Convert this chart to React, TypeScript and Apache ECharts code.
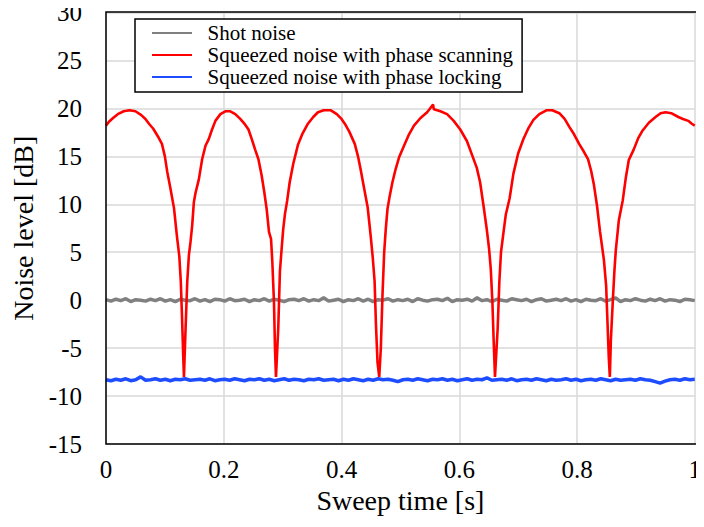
import React, { useEffect, useRef } from "react";
import * as echarts from "echarts";

const seriesNames = [
  "Shot noise",
  "Squeezed noise with phase scanning",
  "Squeezed noise with phase locking",
];

// Squeezed noise with phase scanning: [sweep time s, noise level dB]
const scanTrace: number[][] = [
  [0.0, 18.2], [0.005, 18.6], [0.012, 19.0], [0.02, 19.4], [0.03, 19.7], [0.04, 19.8], [0.05, 19.7],
  [0.06, 19.3], [0.067, 18.9], [0.073, 18.4], [0.08, 17.9], [0.088, 17.1], [0.095, 16.3], [0.1, 15.0],
  [0.104, 13.4], [0.109, 11.8], [0.1155, 9.6], [0.1206, 6.6], [0.1245, 4.6], [0.127, 2.0], [0.129, -1.5],
  [0.131, -5.5], [0.1324, -8.0],
  [0.1352, -2.9], [0.138, 1.9], [0.1408, 4.7], [0.1436, 6.1], [0.1464, 7.8], [0.1492, 10.2], [0.1521, 11.2],
  [0.1577, 12.6], [0.1633, 14.7], [0.169, 16.1], [0.1745, 16.8], [0.1801, 17.8], [0.1858, 18.7],
  [0.1943, 19.4], [0.2027, 19.7], [0.2111, 19.7], [0.2196, 19.4], [0.228, 18.9], [0.2364, 18.3],
  [0.242, 17.8], [0.2476, 16.8], [0.2533, 15.7], [0.2589, 14.7], [0.2644, 13.0], [0.269, 11.2],
  [0.2729, 9.5], [0.2769, 7.1], [0.2803, 6.4], [0.2825, 4.0], [0.2853, -0.2], [0.287, -5.0], [0.2887, -8.0],
  [0.2926, -2.9], [0.2954, 3.0], [0.2985, 5.5], [0.301, 7.4], [0.304, 9.0], [0.3078, 10.4], [0.312, 12.3],
  [0.318, 14.2], [0.326, 16.2], [0.334, 17.4], [0.343, 18.4], [0.352, 19.1], [0.36, 19.6], [0.37, 19.8],
  [0.382, 19.8], [0.392, 19.4], [0.4, 18.9], [0.4056, 18.4], [0.413, 17.6], [0.4225, 16.3], [0.428, 15.0],
  [0.4326, 13.6], [0.438, 11.8], [0.4444, 9.7], [0.4494, 6.8], [0.453, 4.5], [0.4562, 2.0], [0.4585, -2.5],
  [0.4612, -6.5], [0.4641, -8.0],
  [0.4668, -5.0], [0.4696, 0.5], [0.4725, 5.0], [0.4752, 7.4], [0.4781, 9.5], [0.482, 10.9], [0.4865, 12.3],
  [0.4921, 13.7], [0.4978, 14.9], [0.5062, 16.1], [0.5147, 17.3], [0.5231, 18.2], [0.5342, 19.0],
  [0.5455, 19.6], [0.5555, 20.4], [0.5568, 19.9], [0.568, 19.7], [0.5793, 19.4], [0.5906, 18.7],
  [0.6017, 17.8], [0.613, 16.6], [0.6214, 15.2], [0.6298, 13.8], [0.6354, 12.3], [0.6411, 9.9],
  [0.6467, 7.4], [0.6506, 5.4], [0.6535, 3.3], [0.6563, -0.2], [0.6585, -4.3], [0.6607, -8.0],
  [0.6653, -2.9], [0.6681, 1.9], [0.6709, 5.0], [0.675, 7.0], [0.679, 8.9], [0.6855, 10.6], [0.692, 13.2],
  [0.7, 15.3], [0.709, 16.8], [0.718, 18.0], [0.726, 18.8], [0.736, 19.4], [0.748, 19.8], [0.758, 19.8],
  [0.77, 19.5], [0.779, 18.9], [0.7867, 18.1], [0.795, 17.3], [0.8036, 16.3], [0.8115, 15.5], [0.8187, 14.7],
  [0.824, 13.5], [0.8288, 12.0], [0.8339, 9.9], [0.839, 7.2], [0.8457, 4.2], [0.8495, 1.5], [0.8525, -3.5],
  [0.854, -6.0], [0.8558, -8.0],
  [0.8575, -4.2], [0.8609, 0.0], [0.8635, 3.0], [0.8659, 5.2], [0.871, 8.3], [0.8777, 10.4], [0.883, 12.8],
  [0.8879, 14.6], [0.8963, 15.7], [0.904, 16.9], [0.9115, 17.7], [0.922, 18.5], [0.9334, 19.1], [0.942, 19.5],
  [0.9503, 19.6], [0.96, 19.5], [0.9722, 19.1], [0.98, 18.9], [0.989, 18.7], [0.995, 18.4], [1.0, 18.2],
];

// Evenly sampled traces (120 samples over the 1 s sweep), dB
const shotNoise = [
  0.05, -0.1, 0.1, -0.05, 0.15, -0.15, 0.05, 0.0, -0.1, 0.1,
  -0.05, 0.15, -0.1, 0.05, -0.15, 0.1, 0.0, -0.05, 0.15, -0.1,
  0.05, -0.15, 0.1, 0.05, -0.1, 0.15, -0.05, 0.0, 0.1, -0.15,
  0.05, -0.05, 0.15, -0.1, 0.1, 0.0, -0.15, 0.05, 0.1, -0.05,
  0.15, -0.1, 0.05, -0.05, 0.25, -0.1, 0.0, 0.1, -0.15, 0.05,
  -0.05, 0.15, -0.1, 0.1, -0.15, 0.05, 0.0, 0.15, -0.1, 0.05,
  -0.05, 0.1, -0.15, 0.15, 0.0, -0.1, 0.05, 0.1, -0.05, 0.2,
  -0.15, 0.05, 0.0, 0.1, -0.1, 0.25, -0.05, 0.05, -0.15, 0.1,
  0.0, -0.1, 0.15, 0.05, -0.05, 0.1, -0.15, 0.05, 0.15, -0.1,
  0.0, 0.1, -0.05, 0.15, -0.1, 0.05, -0.15, 0.1, 0.0, -0.05,
  0.15, -0.1, 0.05, 0.25, -0.15, 0.05, -0.05, 0.15, 0.0, -0.1,
  0.1, -0.05, 0.15, -0.1, 0.05, 0.0, -0.15, 0.1, 0.05, -0.05,
];
const lockNoise = [
  -8.3, -8.4, -8.25, -8.35, -8.2, -8.4, -8.3, -8.0, -8.35, -8.3,
  -8.2, -8.35, -8.25, -8.4, -8.25, -8.3, -8.2, -8.35, -8.3, -8.25,
  -8.35, -8.2, -8.4, -8.3, -8.25, -8.35, -8.2, -8.3, -8.4, -8.25,
  -8.3, -8.2, -8.35, -8.25, -8.4, -8.3, -8.2, -8.35, -8.25, -8.3,
  -8.4, -8.25, -8.3, -8.2, -8.35, -8.3, -8.25, -8.4, -8.25, -8.35,
  -8.2, -8.3, -8.4, -8.25, -8.35, -8.2, -8.3, -8.25, -8.35, -8.5,
  -8.3, -8.25, -8.35, -8.2, -8.3, -8.4, -8.25, -8.3, -8.2, -8.35,
  -8.25, -8.4, -8.3, -8.2, -8.35, -8.25, -8.3, -8.1, -8.35, -8.3,
  -8.25, -8.35, -8.2, -8.4, -8.3, -8.25, -8.35, -8.2, -8.3, -8.4,
  -8.25, -8.35, -8.3, -8.2, -8.35, -8.25, -8.4, -8.3, -8.25, -8.35,
  -8.2, -8.3, -8.4, -8.25, -8.35, -8.3, -8.25, -8.35, -8.2, -8.3,
  -8.35, -8.5, -8.65, -8.45, -8.3, -8.25, -8.35, -8.2, -8.3, -8.25,
];

const xTicks = { min: 0, max: 1, interval: 0.2 };
const yTicks = { min: -15, max: 30, interval: 5 };

const colors = ["#808080", "#ff0000", "#1e4cff"];
const FONT = "Liberation Serif";
const W = 704;
const H = 527;
const GRID = { left: 106, right: 4, top: 12, bottom: 83 };

// force the serif face on every SVG text the chart draws
const fontCss =
  "#chart-box svg text, #chart-box svg tspan { font-family: 'Liberation Serif', 'Times New Roman', serif !important; }";

export default function App() {
  const ref = useRef<HTMLDivElement>(null);

  useEffect(() => {
    if (!ref.current) return;
    const chart = echarts.init(ref.current, undefined, { renderer: "svg" });
    const sampleTime = (n: number, i: number) => i / (n - 1);
    const shotData = shotNoise.map((v, i) => [sampleTime(shotNoise.length, i), v]);
    const lockData = lockNoise.map((v, i) => [sampleTime(lockNoise.length, i), v]);

    chart.setOption({
      animation: false,
      textStyle: { fontFamily: FONT },
      grid: { ...GRID },
      graphic: [
        {
          type: "rect",
          silent: true,
          z: 100,
          shape: {
            x: GRID.left,
            y: GRID.top,
            width: W - GRID.left - GRID.right,
            height: H - GRID.top - GRID.bottom,
          },
          style: { fill: "none", stroke: "#000", lineWidth: 1.5 },
        },
      ],
      legend: {
        orient: "vertical",
        left: 135,
        top: 19,
        icon: "rect",
        itemWidth: 40,
        itemHeight: 2,
        itemGap: 0,
        borderColor: "#000",
        borderWidth: 1.5,
        padding: [3, 9, 4, 17],
        backgroundColor: "#fff",
        data: seriesNames,
        formatter: "  {name}",
        textStyle: { fontFamily: FONT, fontSize: 21, lineHeight: 22, color: "#000" },
      },
      xAxis: {
        type: "value",
        ...xTicks,
        name: "Sweep time [s]",
        nameLocation: "middle",
        nameGap: 39,
        nameTextStyle: { fontFamily: FONT, fontSize: 28, color: "#000" },
        axisLine: { show: false },
        axisTick: { show: false },
        axisLabel: { fontFamily: FONT, fontSize: 25, color: "#000", margin: 13 },
        splitLine: { lineStyle: { color: "#d9d9d9", width: 1.5 } },
      },
      yAxis: {
        type: "value",
        ...yTicks,
        name: "Noise level [dB]",
        nameLocation: "middle",
        nameGap: 57,
        nameTextStyle: { fontFamily: FONT, fontSize: 28, color: "#000" },
        axisLine: { show: false },
        axisTick: { show: false },
        axisLabel: { fontFamily: FONT, fontSize: 25, color: "#000", margin: 24 },
        splitLine: { lineStyle: { color: "#d9d9d9", width: 1.5 } },
      },
      series: [
        {
          name: seriesNames[0],
          type: "line",
          data: shotData,
          showSymbol: false,
          color: colors[0],
          lineStyle: { color: colors[0], width: 3.5 },
        },
        {
          name: seriesNames[1],
          type: "line",
          data: scanTrace,
          showSymbol: false,
          color: colors[1],
          lineStyle: { color: colors[1], width: 2.6 },
        },
        {
          name: seriesNames[2],
          type: "line",
          data: lockData,
          showSymbol: false,
          color: colors[2],
          lineStyle: { color: colors[2], width: 3.5 },
        },
      ],
    });
    return () => chart.dispose();
  }, []);

  return (
    <>
      <style>{fontCss}</style>
      <div id="chart-box" ref={ref} style={{ width: W, height: H, margin: -8 }} />
    </>
  );
}
